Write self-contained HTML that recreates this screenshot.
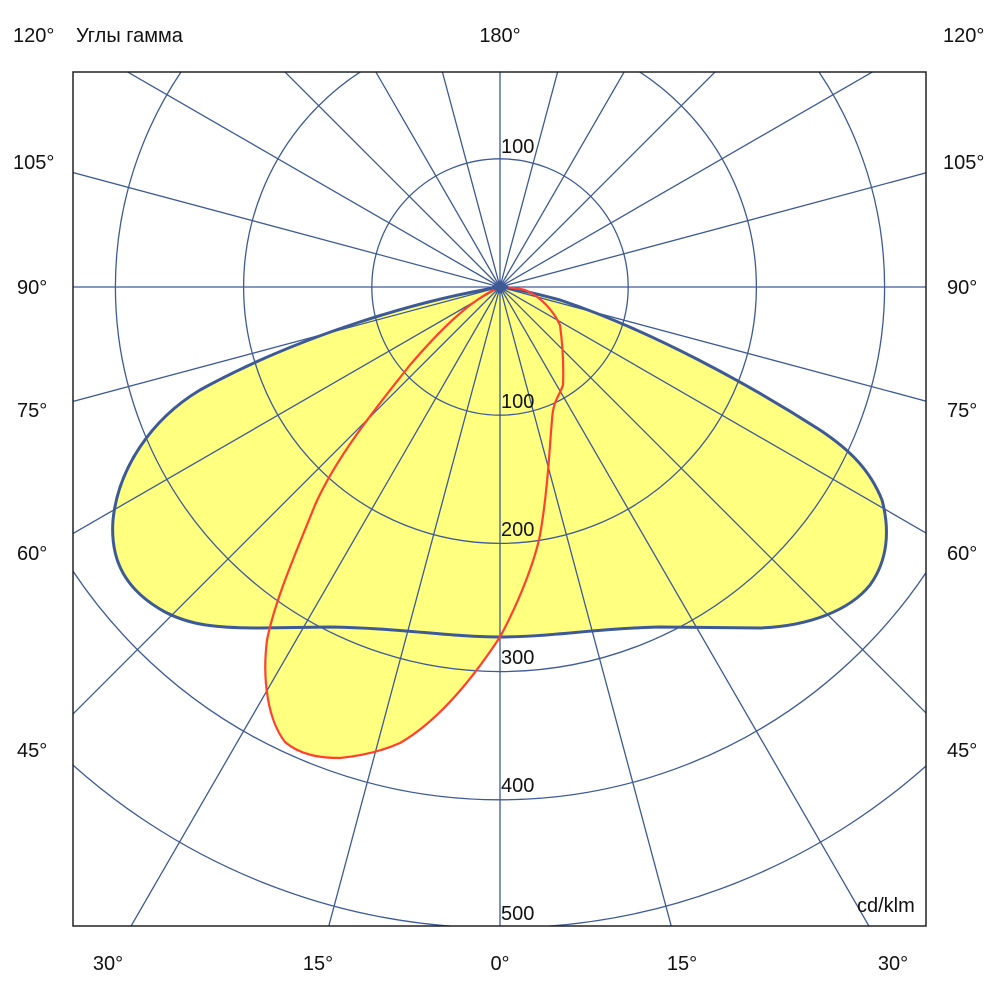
<!DOCTYPE html>
<html><head><meta charset="utf-8"><style>
html,body{margin:0;padding:0;background:#fff;overflow:hidden;width:1000px;height:1000px}
svg{display:block}
svg text{font-family:"Liberation Sans",sans-serif;font-size:20px;fill:#111}
</style></head><body>
<svg width="1000" height="1000" viewBox="0 0 1000 1000" xmlns="http://www.w3.org/2000/svg">
<defs><clipPath id="box"><rect x="73" y="72" width="853" height="854"/></clipPath></defs>
<g clip-path="url(#box)">
<path d="M500,287 C420,300 300,335 200,390 C150,420 118,470 113,520 C110,560 125,590 165,612 C190,625 215,628 260,628 L330,627 C400,628 450,637 500,637 C550,637 600,628 660,627 L760,628 C810,626 850,610 870,585 C888,560 890,530 882,500 C870,470 850,450 820,430 C750,385 650,330 560,300 C530,292 512,288 500,287 Z" fill="#ffff80"/>
<path d="M500,287 C470,300 440,330 410,365 C370,415 335,460 315,505 C295,555 275,600 267,640 C262,680 268,720 285,742 C300,755 320,758 340,758 C360,756 380,752 400,743 C440,720 475,675 500,637 C520,600 535,560 540,535 C548,490 550,440 552,420 C553,400 560,395 563,385 C564,360 562,340 560,325 C553,310 540,296 525,290 C512,287 505,287 500,287 Z" fill="#ffff80"/>
<g stroke="#3d5a96" stroke-width="1.3" fill="none">
<circle cx="500" cy="287" r="128.2"/><circle cx="500" cy="287" r="256.4"/><circle cx="500" cy="287" r="384.6"/><circle cx="500" cy="287" r="512.8"/><circle cx="500" cy="287" r="641"/>
<g id="l">
<line x1="500" y1="287" x2="500" y2="1300"/>
<line x1="500" y1="287" x2="500" y2="1300" transform="rotate(15 500 287)"/>
<line x1="500" y1="287" x2="500" y2="1300" transform="rotate(30 500 287)"/>
<line x1="500" y1="287" x2="500" y2="1300" transform="rotate(45 500 287)"/>
<line x1="500" y1="287" x2="500" y2="1300" transform="rotate(60 500 287)"/>
<line x1="500" y1="287" x2="500" y2="1300" transform="rotate(75 500 287)"/>
<line x1="500" y1="287" x2="500" y2="1300" transform="rotate(90 500 287)"/>
<line x1="500" y1="287" x2="500" y2="1300" transform="rotate(105 500 287)"/>
<line x1="500" y1="287" x2="500" y2="1300" transform="rotate(120 500 287)"/>
<line x1="500" y1="287" x2="500" y2="1300" transform="rotate(135 500 287)"/>
<line x1="500" y1="287" x2="500" y2="1300" transform="rotate(150 500 287)"/>
<line x1="500" y1="287" x2="500" y2="1300" transform="rotate(165 500 287)"/>
</g>
<use href="#l" transform="rotate(180 500 287)"/>
</g>
<path d="M500,287 C420,300 300,335 200,390 C150,420 118,470 113,520 C110,560 125,590 165,612 C190,625 215,628 260,628 L330,627 C400,628 450,637 500,637 C550,637 600,628 660,627 L760,628 C810,626 850,610 870,585 C888,560 890,530 882,500 C870,470 850,450 820,430 C750,385 650,330 560,300 C530,292 512,288 500,287 Z" fill="none" stroke="#3d5a96" stroke-width="3"/>
<path d="M500,287 C470,300 440,330 410,365 C370,415 335,460 315,505 C295,555 275,600 267,640 C262,680 268,720 285,742 C300,755 320,758 340,758 C360,756 380,752 400,743 C440,720 475,675 500,637 C520,600 535,560 540,535 C548,490 550,440 552,420 C553,400 560,395 563,385 C564,360 562,340 560,325 C553,310 540,296 525,290 C512,287 505,287 500,287 Z" fill="none" stroke="#ff4030" stroke-width="2.2"/>
<path d="M491,287 L500,280 L509,287 L500,294 Z" fill="#3d5a96"/>
</g>
<rect x="73" y="72" width="853" height="854" fill="none" stroke="#222" stroke-width="1.5"/>
<text x="501" y="153">100</text>
<text x="501" y="408">100</text>
<text x="501" y="536">200</text>
<text x="501" y="664">300</text>
<text x="501" y="792">400</text>
<text x="501" y="920">500</text>
<text x="857" y="912">cd/klm</text>
<text x="13" y="42">120°</text>
<text x="76" y="42">Углы гамма</text>
<text x="500" y="42" text-anchor="middle">180°</text>
<text x="943" y="42">120°</text>
<text x="13" y="169">105°</text><text x="943" y="169">105°</text>
<text x="17" y="294">90°</text><text x="947" y="294">90°</text>
<text x="17" y="417">75°</text><text x="947" y="417">75°</text>
<text x="17" y="560">60°</text><text x="947" y="560">60°</text>
<text x="17" y="757">45°</text><text x="947" y="757">45°</text>
<text x="108" y="970" text-anchor="middle">30°</text>
<text x="318" y="970" text-anchor="middle">15°</text>
<text x="500" y="970" text-anchor="middle">0°</text>
<text x="682" y="970" text-anchor="middle">15°</text>
<text x="893" y="970" text-anchor="middle">30°</text>
</svg>
</body></html>
